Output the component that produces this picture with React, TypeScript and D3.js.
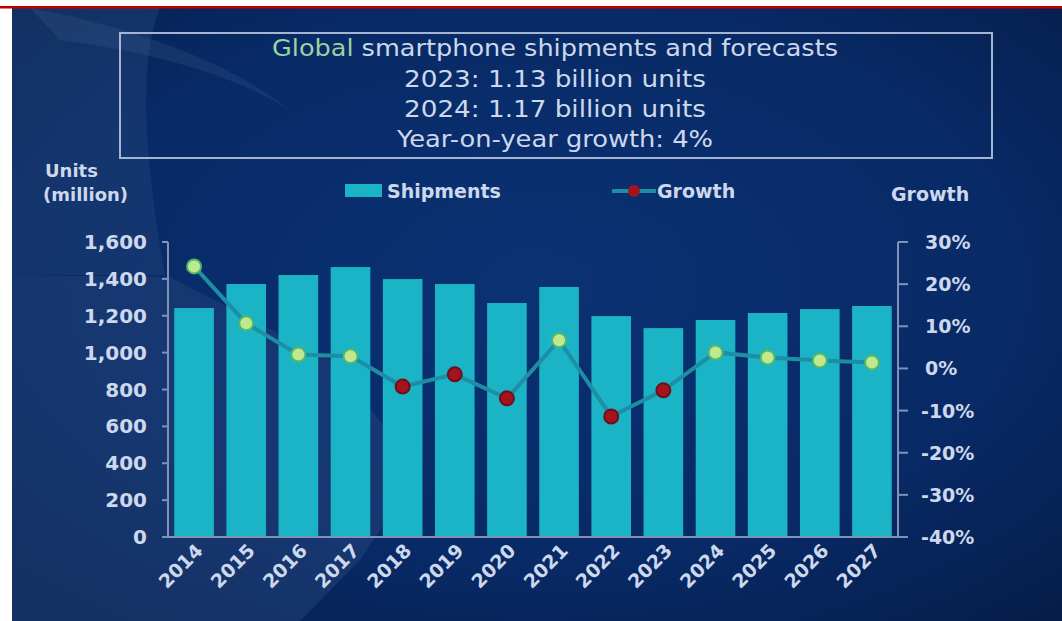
import React from "react";
import * as d3 from "d3";

const years = ["2014","2015","2016","2017","2018","2019","2020","2021","2022","2023","2024","2025","2026","2027"];
const shipments = [1242, 1372, 1421, 1464, 1399, 1372, 1269, 1356, 1198, 1133, 1177, 1215, 1236, 1253];
const growth = [24.2, 10.7, 3.3, 2.9, -4.3, -1.4, -7.1, 6.7, -11.4, -5.2, 3.8, 2.6, 1.9, 1.4];
const leftTicks = [0, 200, 400, 600, 800, 1000, 1200, 1400, 1600];
const rightTicks = [-40, -30, -20, -10, 0, 10, 20, 30];
const titleLines = [
  "smartphone shipments and forecasts",
  "2023: 1.13 billion units",
  "2024: 1.17 billion units",
  "Year-on-year growth: 4%",
];
const titleWidths = [566, 302, 302, 316];

const W = 1062, H = 621;
const FONT = "'DejaVu Sans', 'Open Sans', sans-serif";
const TXT = "#cdd8ec";

export default function App() {
  const x = d3.scaleBand<string>().domain(years).range([168, 898]).paddingInner(0.24).paddingOuter(0.12);
  const yL = d3.scaleLinear().domain([0, 1600]).range([537, 242]);
  const yR = d3.scaleLinear().domain([-40, 30]).range([537, 242]);
  const fmt = d3.format(",");
  const line = d3.line<number>()
    .x((_, i) => (x(years[i]) as number) + x.bandwidth() / 2)
    .y((d) => yR(d));

  const titleX0 = 555 - titleWidths[0] / 2;

  return (
    <svg width={W} height={H} style={{ position: "absolute", left: 0, top: 0, display: "block" }} fontFamily={FONT}>
      <defs>
        <radialGradient id="bg" cx="0.5" cy="0.45" r="0.75">
          <stop offset="0" stopColor="#0b3274" />
          <stop offset="0.6" stopColor="#082a66" />
          <stop offset="1" stopColor="#061c48" />
        </radialGradient>
      </defs>
      <rect x={0} y={0} width={W} height={H} fill="#ffffff" />
      <rect x={12} y={8} width={W - 12} height={H - 8} fill="url(#bg)" />
      {/* lighter regions of the backdrop */}
      <path d="M12,8 L160,8 Q130,80 165,275 L12,275 Z" fill="#24447a" opacity="0.45" />
      <path d="M30,8 Q200,40 290,110 Q210,60 60,40 Z" fill="#4a6a98" opacity="0.2" />
      <path d="M12,275 L170,277 L330,360 L420,470 L360,560 L300,621 L12,621 Z" fill="#23447a" opacity="0.5" />
      <rect x={0} y={6} width={W} height={2.5} fill="#c00000" />

      {/* title box */}
      <rect x={120} y={33} width={872} height={125} fill="none" stroke="#a3b5d2" strokeWidth={2} />
      <text x={titleX0} y={56} fontSize={23} fill={TXT} textLength={titleWidths[0]} lengthAdjust="spacingAndGlyphs">
        <tspan fill="#98d3a2">Global </tspan>
        <tspan>{titleLines[0]}</tspan>
      </text>
      {titleLines.slice(1).map((t, i) => (
        <text key={t} x={555 - titleWidths[i + 1] / 2} y={87 + i * 30} fontSize={23} fill={TXT}
          textLength={titleWidths[i + 1]} lengthAdjust="spacingAndGlyphs">{t}</text>
      ))}

      {/* axis titles */}
      <text x={45} y={177} fontSize={18} fontWeight={700} fill={TXT}>Units</text>
      <text x={43} y={201} fontSize={18} fontWeight={700} fill={TXT}>(million)</text>
      <text x={891} y={201} fontSize={19} fontWeight={700} fill={TXT}>Growth</text>

      {/* legend */}
      <rect x={345} y={184} width={37} height={13} fill="#1ab4c6" />
      <text x={387} y={198} fontSize={19} fontWeight={700} fill={TXT}>Shipments</text>
      <line x1={612} x2={656} y1={191} y2={191} stroke="#1d8ea3" strokeWidth={4} />
      <circle cx={634} cy={191} r={6} fill="#a3141f" />
      <text x={657} y={198} fontSize={19} fontWeight={700} fill={TXT}>Growth</text>

      {/* bars */}
      {shipments.map((v, i) => (
        <rect key={years[i]} x={x(years[i])} y={yL(v)} width={x.bandwidth()} height={yL(0) - yL(v)} fill="#1ab4c6" />
      ))}

      {/* axes */}
      <g stroke="#7d93b9" strokeWidth={2} fill="none">
        <line x1={168} x2={168} y1={yL(1600)} y2={yL(0)} />
        {leftTicks.map((t) => (
          <line key={t} x1={162} x2={168} y1={yL(t)} y2={yL(t)} />
        ))}
        <line x1={162} x2={908} y1={yL(0)} y2={yL(0)} />
        <line x1={898} x2={898} y1={yR(30)} y2={yR(-40)} />
        {rightTicks.map((t) => (
          <line key={t} x1={898} x2={908} y1={yR(t)} y2={yR(t)} />
        ))}
      </g>
      {leftTicks.map((t) => (
        <text key={t} x={147} y={yL(t) + 7} textAnchor="end" fontSize={20} fontWeight={700} fill={TXT}>{fmt(t)}</text>
      ))}
      {rightTicks.map((t) => (
        <text key={t} x={t < 0 ? 921 : 925} y={yR(t) + 7} fontSize={19} fontWeight={700} fill={TXT}>{`${t}%`}</text>
      ))}

      {/* x labels */}
      {years.map((yr) => {
        const cx = (x(yr) as number) + x.bandwidth() / 2 + 10;
        return (
          <text key={yr} transform={`translate(${cx},552) rotate(-45)`} textAnchor="end" fontSize={19} fontWeight={700} fill={TXT}>{yr}</text>
        );
      })}

      {/* growth line */}
      <path d={line(growth) || ""} fill="none" stroke="#1d8ea3" strokeWidth={4} />
      {growth.map((g, i) => {
        const cx = (x(years[i]) as number) + x.bandwidth() / 2;
        const pos = g >= 0;
        return (
          <circle key={years[i]} cx={cx} cy={yR(g)} r={7}
            fill={pos ? "#bfe88f" : "#a3141f"}
            stroke={pos ? "#4fb86a" : "#6e0f1a"} strokeWidth={2} />
        );
      })}
    </svg>
  );
}
